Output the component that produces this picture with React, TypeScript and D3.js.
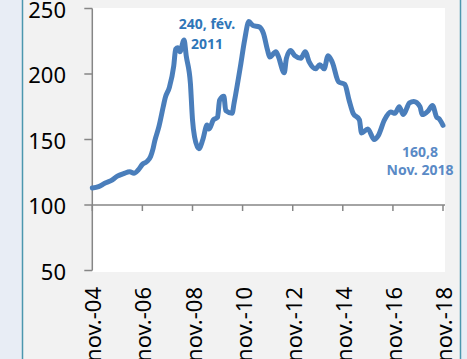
import React from 'react';
import * as d3 from 'd3';

const dates = [
  '2004-11','2005-02','2005-05','2005-08','2005-11','2006-02','2006-05','2006-07','2006-09','2006-11',
  '2007-01','2007-03','2007-04','2007-05','2007-07','2007-09','2007-10','2007-12','2008-02','2008-03',
  '2008-04','2008-05','2008-07','2008-08','2008-10','2008-11','2008-12','2009-02','2009-04','2009-06',
  '2009-07','2009-09','2009-11','2009-12','2010-02','2010-03','2010-06','2010-07','2010-10','2010-12',
  '2011-02','2011-04','2011-07','2011-09','2011-11','2011-12','2012-03','2012-04','2012-07','2012-08',
  '2012-10','2012-12','2013-03','2013-05','2013-07','2013-10','2013-12','2014-02','2014-04','2014-06',
  '2014-09','2014-12','2015-02','2015-04','2015-07','2015-08','2015-11','2016-02','2016-04','2016-07',
  '2016-10','2016-12','2017-02','2017-04','2017-07','2017-09','2017-12','2018-01','2018-04','2018-06',
  '2018-08','2018-09','2018-11'
];
const values = [
  113, 114, 116.6, 118.6, 122, 124, 125.4, 124.2, 126.7, 131,
  133, 137, 142, 149, 160, 175, 182, 190, 206, 219,
  220, 217, 226, 214, 193, 165, 152, 143, 150, 161,
  158, 165, 167, 180, 183, 172, 170, 178, 206, 226,
  240, 237, 236, 231, 218, 213, 217, 214, 201, 212,
  218, 214, 212, 217, 209, 204, 207, 204, 214, 209,
  194, 192, 180, 170, 165, 155, 158, 150, 153, 165,
  171, 170, 175, 169, 178, 179, 175, 169, 172, 176,
  167, 166, 160.8
];
const yTicks = [50, 100, 150, 200, 250];
const xTickDates = ['2004-11','2006-11','2008-11','2010-11','2012-11','2014-11','2016-11','2018-11'];
const xTickLabels = ['nov.-04','nov.-06','nov.-08','nov.-10','nov.-12','nov.-14','nov.-16','nov.-18'];

const FONT = "'Noto Sans', 'Open Sans', sans-serif";

export default function App() {
  const parse = d3.timeParse('%Y-%m');
  const x = d3.scaleTime()
    .domain([parse('2004-11') as Date, parse('2018-11') as Date])
    .range([92.3, 443]);
  const y = d3.scaleLinear().domain([50, 250]).range([270.5, 8.5]);
  const data = dates.map((d, i) => ({ d: parse(d) as Date, v: values[i] }));
  const line = d3.line<{ d: Date; v: number }>()
    .x(p => x(p.d))
    .y(p => y(p.v))
    .curve(d3.curveMonotoneX);

  const axisColor = '#868686';
  const x0 = x(parse('2004-11') as Date);

  return (
    <svg width={467} height={359} style={{ position: 'absolute', left: 0, top: 0, display: 'block' }}>
      <rect x={0} y={0} width={467} height={359} fill="#e8edf5" />
      <rect x={23} y={0} width={437} height={359} fill="#f2f2f2" />
      <line x1={22.5} y1={0} x2={22.5} y2={359} stroke="#4b97ae" strokeWidth={1.5} />
      <line x1={460.5} y1={0} x2={460.5} y2={359} stroke="#4b97ae" strokeWidth={1.5} />
      <rect x={92} y={8} width={353} height={264} fill="#ffffff" />

      {/* Y axis */}
      <line x1={x0} y1={y(250)} x2={x0} y2={y(50)} stroke={axisColor} strokeWidth={1.5} />
      {yTicks.map(t => (
        <g key={t}>
          <line x1={x0 - 8} x2={x0} y1={y(t)} y2={y(t)} stroke={axisColor} strokeWidth={1.5} />
          <text x={66} y={y(t)} textAnchor="end" dominantBaseline="central"
            fontFamily={FONT} fontSize={22} fill="#000">{t}</text>
        </g>
      ))}

      {/* X axis at 100 */}
      <line x1={x0} y1={y(100)} x2={445} y2={y(100)} stroke={axisColor} strokeWidth={1.5} />
      {xTickDates.map((t, i) => {
        const tx = x(parse(t) as Date);
        return (
          <g key={t}>
            <line x1={tx} x2={tx} y1={y(100)} y2={y(100) + 6} stroke={axisColor} strokeWidth={1.5} />
            <text transform={`translate(${tx},287) rotate(-90)`} textAnchor="end" dominantBaseline="central"
              fontFamily={FONT} fontSize={22} fill="#000">{xTickLabels[i]}</text>
          </g>
        );
      })}

      {/* Series */}
      <path d={line(data) || ''} fill="none" stroke="#4a7ebb" strokeWidth={5}
        strokeLinejoin="round" strokeLinecap="round" />

      {/* Annotations */}
      <text x={207} y={29} textAnchor="middle" fontFamily={FONT} fontWeight="bold" fontSize={14} fill="#2f76b8">240, fév.</text>
      <text x={207} y={49} textAnchor="middle" fontFamily={FONT} fontWeight="bold" fontSize={14} fill="#2f76b8">2011</text>
      <text x={420} y={157} textAnchor="middle" fontFamily={FONT} fontWeight="bold" fontSize={14} fill="#5a8ac6">160,8</text>
      <text x={420} y={175} textAnchor="middle" fontFamily={FONT} fontWeight="bold" fontSize={14} fill="#5a8ac6">Nov. 2018</text>
    </svg>
  );
}
